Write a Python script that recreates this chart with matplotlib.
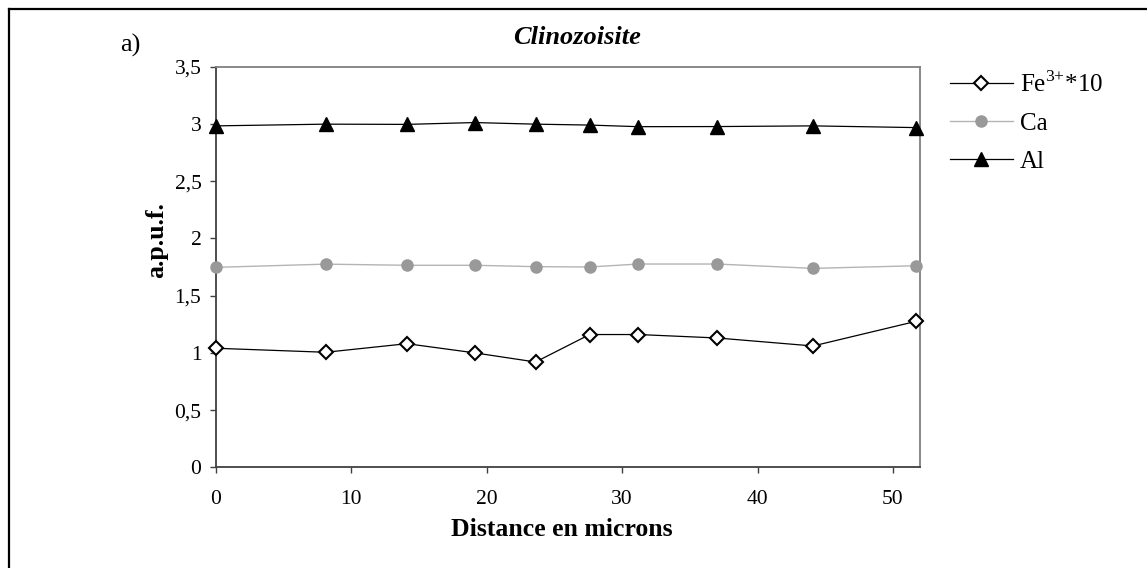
import numpy as np
import matplotlib
matplotlib.use("Agg")
import matplotlib.pyplot as plt
from matplotlib.ticker import FuncFormatter, MultipleLocator
from matplotlib.lines import Line2D

plt.rcParams['font.family'] = ['Liberation Serif', 'DejaVu Serif']
plt.rcParams['mathtext.fontset'] = 'custom'
plt.rcParams['mathtext.rm'] = 'Liberation Serif'

# data
distance = [0, 8.1, 14.1, 19.1, 23.6, 27.6, 31.2, 37.0, 44.1, 51.7]
fe3_x10 = [1.04, 1.005, 1.08, 1.0, 0.92, 1.16, 1.16, 1.13, 1.06, 1.275]
ca = [1.747, 1.775, 1.765, 1.765, 1.753, 1.75, 1.776, 1.776, 1.738, 1.761]
al = [2.983, 2.998, 2.996, 3.012, 2.998, 2.99, 2.976, 2.977, 2.983, 2.968]
series_labels = ["Fe$^{\\mathregular{3{+}}}$*10", "Ca", "Al"]

W, H = 1147, 568
fig = plt.figure(figsize=(W / 100, H / 100), dpi=100)
ax = fig.add_axes([216 / W, 1 - 467.3 / H, (920 - 216) / W, (467.3 - 66.7) / H])

ax.plot(distance, al, color='black', lw=0.9, marker='^', ms=10,
        mfc='black', mec='black', clip_on=False, zorder=3)
ax.plot(distance, ca, color='#b4b4b4', lw=1.0, marker='o', ms=8,
        mfc='#999999', mec='#999999', clip_on=False, zorder=3)
ax.plot(distance, fe3_x10, color='black', lw=0.9, marker='D', ms=7,
        mfc='white', mec='black', mew=1.5, clip_on=False, zorder=4)

ax.set_xlim(0, 52)
ax.set_ylim(0, 3.5)
ax.xaxis.set_major_locator(MultipleLocator(10))
ax.yaxis.set_major_locator(MultipleLocator(0.5))
comma = FuncFormatter(lambda v, p: ('%g' % v).replace('.', ','))
ax.xaxis.set_major_formatter(comma)
ax.yaxis.set_major_formatter(comma)
ax.tick_params(labelsize=15.5, direction='out', length=4.5, width=1.0,
               color='#404040', pad=6)
ax.tick_params(axis='x', pad=12)

for side in ['left', 'bottom']:
    ax.spines[side].set_color('#404040')
    ax.spines[side].set_linewidth(1.3)
for side in ['top', 'right']:
    ax.spines[side].set_color('#808080')
    ax.spines[side].set_linewidth(1.3)

fig.text(577 / W, 1 - 38 / H, "Clinozoisite", ha='center', va='center',
         fontsize=19, fontweight='bold', fontstyle='italic')
fig.text(120 / W, 1 - 45 / H, "a)", ha='left', va='center', fontsize=19)
fig.text(562 / W, 1 - 530 / H, "Distance en microns", ha='center',
         va='center', fontsize=18.5, fontweight='bold')
fig.text(157 / W, 1 - 240 / H, "a.p.u.f.", ha='center', va='center',
         rotation=90, fontsize=18.5, fontweight='bold')

handles = [
    Line2D([], [], color='black', lw=0.9, marker='D', ms=7, mfc='white',
           mec='black', mew=1.5),
    Line2D([], [], color='#b4b4b4', lw=1.0, marker='o', ms=8,
           mfc='#999999', mec='#999999'),
    Line2D([], [], color='black', lw=0.9, marker='^', ms=10, mfc='black',
           mec='black'),
]
fig.legend(handles, series_labels, loc='upper left',
           bbox_to_anchor=(950 / W, 1 - 71 / H), frameon=False,
           fontsize=18, handlelength=2.5, handletextpad=0.3,
           labelspacing=0.62, borderaxespad=0, borderpad=0)

# outer frame (top and left edges visible in the reference)
fig.add_artist(Line2D([8.5 / W, 8.5 / W], [0, 1 - 8.5 / H], color='black',
                      lw=1.6, transform=fig.transFigure))
fig.add_artist(Line2D([8.5 / W, 1], [1 - 8.5 / H, 1 - 8.5 / H],
                      color='black', lw=1.6, transform=fig.transFigure))

fig.savefig("out.png", dpi=100)
